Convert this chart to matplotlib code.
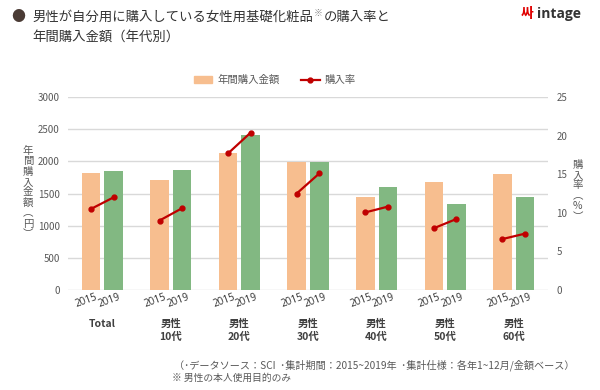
import numpy as np
import matplotlib.pyplot as plt
from matplotlib.lines import Line2D
from matplotlib.patches import Patch
from matplotlib.transforms import ScaledTranslation

plt.rcParams['font.family'] = ['Noto Sans CJK JP', 'DejaVu Sans']

# data
groups = ['Total', '男性\n10代', '男性\n20代', '男性\n30代', '男性\n40代', '男性\n50代', '男性\n60代']
years = ['2015', '2019']
amount_2015 = [1825, 1706, 2124, 1995, 1448, 1675, 1799]
amount_2019 = [1850, 1866, 2407, 1985, 1598, 1335, 1448]
rate_2015 = [10.5, 9.0, 17.7, 12.5, 10.05, 8.0, 6.6]
rate_2019 = [12.0, 10.6, 20.4, 15.1, 10.8, 9.2, 7.3]

orange = '#F7BE8F'
green = '#82B882'
red = '#C00000'
gray = '#595959'

fig = plt.figure(figsize=(6, 3.9), dpi=100)
ax = fig.add_axes([68/600, 1-290/390, 480/600, 193/390])

x = np.arange(len(groups))
off = 0.165
width = 0.27

ax.bar(x-off, amount_2015, width, color=orange, zorder=2)
ax.bar(x+off, amount_2019, width, color=green, zorder=2)
ax.set_xlim(-0.5, len(groups)-0.5)
ax.set_ylim(0, 3000)
ax.set_yticks(range(0, 3001, 500))
ax.grid(axis='y', color='#D9D9D9', lw=1, zorder=0)
for s in ax.spines.values():
    s.set_visible(False)
ax.tick_params(axis='y', length=0, labelsize=7, labelcolor=gray, pad=6)

pos = np.concatenate([x-off, x+off])
ax.set_xticks(pos)
ax.set_xticklabels([years[0]]*len(x) + [years[1]]*len(x), rotation=20,
                   fontsize=7.2, color='#333333', family=['Open Sans'])
ax.tick_params(axis='x', length=0, pad=1)
shift = ScaledTranslation(-3/72, 0, fig.dpi_scale_trans)
for lbl in ax.get_xticklabels():
    lbl.set_transform(lbl.get_transform() + shift)

ax2 = ax.twinx()
ax2.set_ylim(0, 25)
ax2.set_yticks(range(0, 26, 5))
for s in ax2.spines.values():
    s.set_visible(False)
ax2.tick_params(axis='y', length=0, labelsize=7, labelcolor=gray, pad=6)
for i in x:
    ax2.plot([i-off, i+off], [rate_2015[i], rate_2019[i]], color=red, lw=1.6,
             marker='o', ms=3.5, zorder=3)

for i, g in enumerate(groups):
    ax.text(i, -0.15, g, transform=ax.get_xaxis_transform(), ha='center', va='top',
            fontsize=7.5, fontweight='bold', color='#404040', linespacing=1.4)

# vertical axis titles
ax.text(-0.083, 0.505, '\n'.join('年間購入金額︵円︶'), transform=ax.transAxes, ha='center',
        va='center', fontsize=7.5, color=gray, linespacing=1.05)
ax.text(1.062, 0.515, '\n'.join('購入率︵%︶'), transform=ax.transAxes, ha='center',
        va='center', fontsize=7.5, color=gray, linespacing=1.05)

handles = [Patch(color=orange), Line2D([], [], color=red, lw=1.6, marker='o', ms=3.5)]
fig.legend(handles, ['年間購入金額', '購入率'], loc='center', bbox_to_anchor=(0.458, 1-80/390),
           ncol=2, frameon=False, fontsize=7.5, handlelength=1.8, handletextpad=0.5,
           columnspacing=2, labelcolor=gray)

# title, pieces placed one after another
r = fig.canvas.get_renderer()
fig.text(11/600, 1-17/390, '●', fontsize=10, color='#4A3B35', ha='left', va='center')
t1 = fig.text(32/600, 1-17/390, '男性が自分用に購入している女性用基礎化粧品', fontsize=9.6,
              color='#333333', ha='left', va='center')
x1 = t1.get_window_extent(r).x1 / 600 + 1/600
t2 = fig.text(x1, 1-13/390, '※', fontsize=6.5, color='#888888', ha='left', va='center')
x2 = t2.get_window_extent(r).x1 / 600 + 1/600
fig.text(x2, 1-17/390, 'の購入率と', fontsize=9.6, color='#333333', ha='left', va='center')
fig.text(32/600, 1-37/390, '年間購入金額（年代別）', fontsize=9.6, color='#333333',
         ha='left', va='center')
fig.text(533/600, 1-14/390, '싸', fontsize=10, color='#E00000', ha='right', va='center',
         fontweight='bold', family=['Noto Sans CJK KR'])
fig.text(537/600, 1-14/390, 'intage', fontsize=10, color='#333333', ha='left', va='center',
         fontweight='bold', family=['Open Sans', 'DejaVu Sans'])

fig.text(174/600, 1-365/390, '（･データソース：SCI  ･集計期間：2015~2019年  ･集計仕様：各年1~12月/金額ベース）',
         fontsize=7.3, color=gray, ha='left', va='center')
fig.text(172/600, 1-378/390, '※ 男性の本人使用目的のみ', fontsize=7, color=gray,
         ha='left', va='center')

fig.savefig('out.png', dpi=100)
